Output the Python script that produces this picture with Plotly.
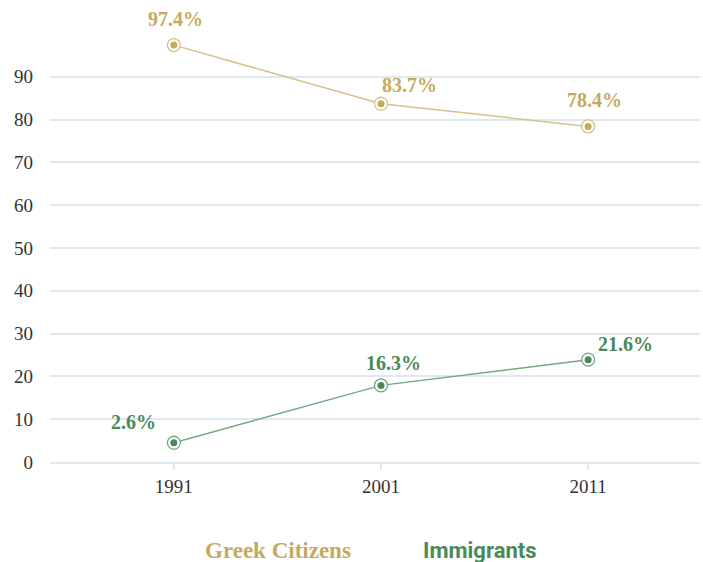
import plotly.graph_objects as go

years = [1991, 2001, 2011]
greek_citizens = [97.4, 83.7, 78.4]
greek_labels = ["97.4%", "83.7%", "78.4%"]
immigrants = [4.5, 17.9, 23.9]  # positions as drawn in the picture
immigrant_labels = ["2.6%", "16.3%", "21.6%"]
y_ticks = [0, 10, 20, 30, 40, 50, 60, 70, 80, 90]
series_names = ["Greek Citizens", "Immigrants"]

GOLD = "#C4AA5E"
GOLD_LINE = "#D5C286"
GREEN = "#4A8A5A"
GREEN_LINE = "#72A982"
GRID = "#DFE8F0"
SERIF = "Liberation Serif"

# label offsets (pixels) per point, styling only
greek_offsets = [(2, 26), (28, 19), (6, 26)]
imm_offsets = [(-40, 21), (12, 22), (37, 16)]

fig = go.Figure()
for vals, col, lcol in [(greek_citizens, GOLD, GOLD_LINE), (immigrants, GREEN, GREEN_LINE)]:
    fig.add_trace(go.Scatter(x=years, y=vals, mode="lines+markers",
                             line=dict(color=lcol, width=1.5),
                             marker=dict(size=13, color="white", line=dict(color=lcol, width=1.3)),
                             showlegend=False, hoverinfo="skip"))
    fig.add_trace(go.Scatter(x=years, y=vals, mode="markers",
                             marker=dict(size=7, color=col),
                             showlegend=False, hoverinfo="skip"))

ann = []
for vals, labs, offs, col in [(greek_citizens, greek_labels, greek_offsets, GOLD),
                              (immigrants, immigrant_labels, imm_offsets, GREEN)]:
    for x, y, t, (dx, dy) in zip(years, vals, labs, offs):
        ann.append(dict(x=x, y=y, text=f"<b>{t}</b>", showarrow=False,
                        xshift=dx, yshift=dy, xanchor="center", yanchor="middle",
                        font=dict(family=SERIF, size=20, color=col)))

ann.append(dict(xref="paper", yref="paper", x=(278 - 50) / 650, y=-(550 - 461.7) / 451.7,
                xanchor="center", yanchor="middle",
                text=f"<b>{series_names[0]}</b>", showarrow=False,
                font=dict(family=SERIF, size=23, color=GOLD)))
ann.append(dict(xref="paper", yref="paper", x=(480 - 50) / 650, y=-(550 - 461.7) / 451.7,
                xanchor="center", yanchor="middle",
                text=f"<b>{series_names[1]}</b>", showarrow=False,
                font=dict(family="Roboto", size=22, color=GREEN)))

fig.update_layout(
    width=703, height=562,
    margin=dict(l=50, r=3, t=10, b=100.3),
    paper_bgcolor="white", plot_bgcolor="white",
    annotations=ann,
    xaxis=dict(range=[1985.02, 2016.4], tickvals=years, ticktext=[str(y) for y in years],
               automargin=False,
               showgrid=False, zeroline=False, showline=True, linecolor=GRID, linewidth=1.5,
               ticks="outside", ticklen=6, tickcolor=GRID, tickwidth=1.5,
               tickfont=dict(family=SERIF, size=19, color="#333333")),
    yaxis=dict(range=[0, 105.6], tickvals=y_ticks, showgrid=True, gridcolor=GRID, gridwidth=1.5,
               automargin=False,
               zeroline=False, showline=False, ticks="", ticklabelstandoff=16,
               tickfont=dict(family=SERIF, size=19, color="#333333")),
)

fig.write_html("out.html", config={"displayModeBar": False},
               post_script="document.body.style.margin='0';document.body.style.overflow='hidden';")
